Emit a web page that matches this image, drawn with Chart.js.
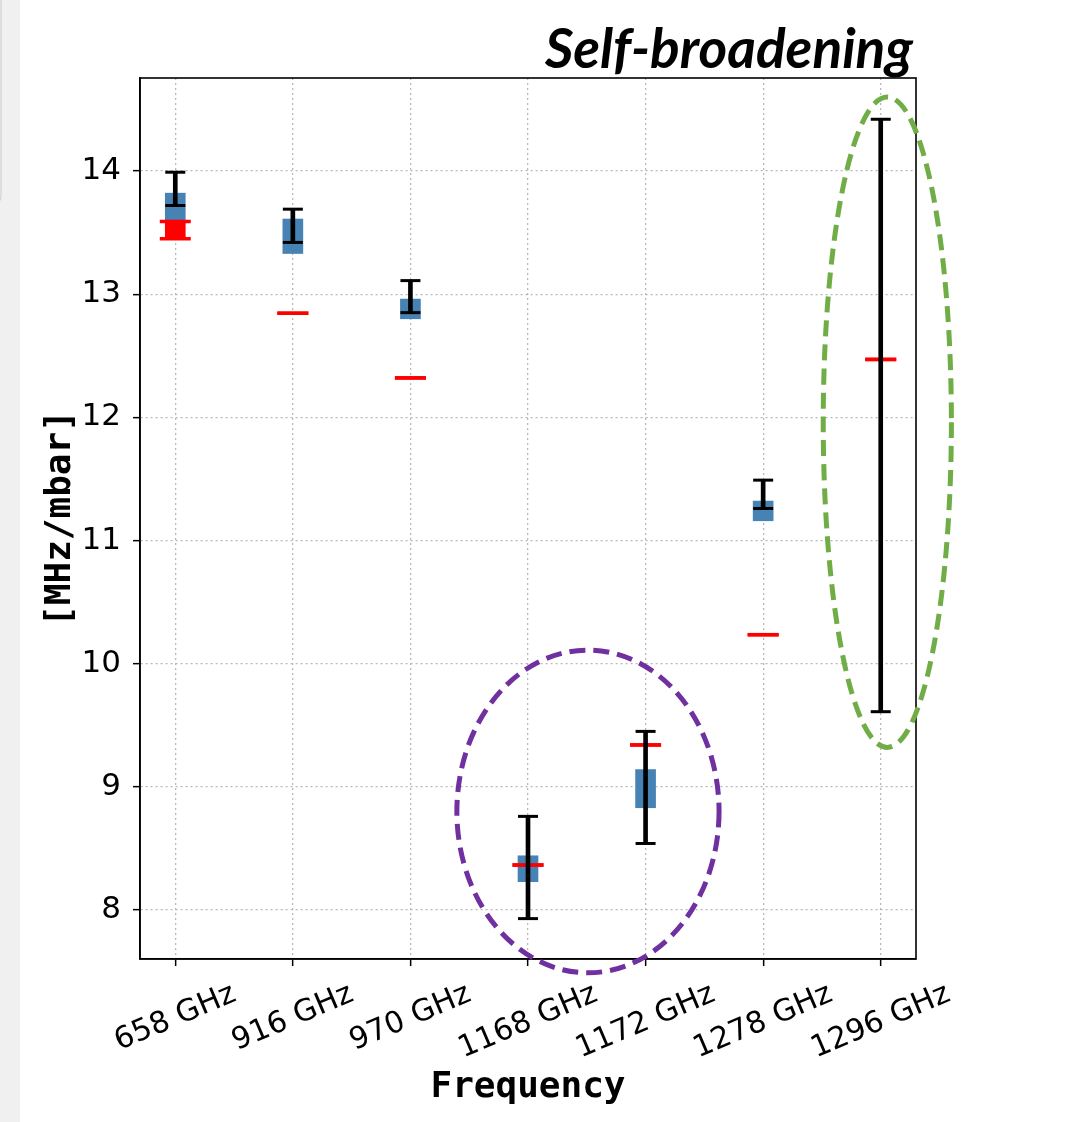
<!DOCTYPE html>
<html>
<head>
<meta charset="utf-8">
<script src="https://cdn.jsdelivr.net/npm/chart.js@4.4.1/dist/chart.umd.min.js"></script>
<style>
  html, body { margin: 0; padding: 0; background: #fff; overflow: hidden; }
  canvas { display: block; }
</style>
</head>
<body>
<canvas id="chart" width="1069" height="1122"></canvas>
<script>
// ======================
// DATA
// ======================
const freqLabels = ["658 GHz", "916 GHz", "970 GHz", "1168 GHz", "1172 GHz", "1278 GHz", "1296 GHz"];

// blue boxes (low / high)
const boxLow  = [13.59, 13.33, 12.80, 8.23, 8.83, 11.16, null];
const boxHigh = [13.82, 13.61, 12.96, 8.44, 9.14, 11.32, null];

// black error bars (low / high)
const errLow  = [13.72, 13.42, 12.85, 7.93, 8.54, 11.26, 9.61];
const errHigh = [13.99, 13.69, 13.11, 8.76, 9.45, 11.49, 14.42];

// red reference values (low / high, equal when no spread)
const refLow  = [13.45, 12.845, 12.32, 8.365, 9.34, 10.235, 12.47];
const refHigh = [13.59, 12.845, 12.32, 8.365, 9.34, 10.235, 12.47];

const yTicks = [8, 9, 10, 11, 12, 13, 14];

// dashed rings: [center index, center value, radius in index, radius in value]
const purpleRing = [3.51, 8.80, 1.115, 1.31];
const greenRing  = [6.056, 11.96, 0.545, 2.64];

// ======================
// BUILD DATASETS
// ======================
function floating(lo, hi) {
  return lo.map((v, i) => (v === null || v === hi[i]) ? { x: i, y: null } : { x: i, y: [v, hi[i]] });
}
function caps(lo, hi) {
  let pts = [];
  lo.forEach((v, i) => {
    pts.push({ x: i, y: v });
    pts.push({ x: i, y: hi[i] });
  });
  return pts;
}

// ======================
// PLUGINS
// ======================
const pagePlugin = {
  id: "page",
  beforeDraw(chart) {
    const ctx = chart.ctx;
    ctx.save();
    ctx.fillStyle = "#ffffff";
    ctx.fillRect(0, 0, chart.width, chart.height);
    ctx.fillStyle = "#f0f0f0";
    ctx.fillRect(0, 0, 20, chart.height);
    ctx.strokeStyle = "#d6d6d6";
    ctx.lineWidth = 1.5;
    ctx.beginPath();
    ctx.moveTo(1, 0);
    ctx.lineTo(1, 196);
    ctx.quadraticCurveTo(1, 202, -4, 202);
    ctx.stroke();
    ctx.restore();
  }
};

const decorPlugin = {
  id: "decor",
  afterDraw(chart) {
    const ctx = chart.ctx;
    const a = chart.chartArea;
    const xs = chart.scales.x;
    const ys = chart.scales.y;

    // frame
    ctx.save();
    ctx.strokeStyle = "#000";
    ctx.lineWidth = 1.6;
    ctx.strokeRect(a.left, a.top, a.right - a.left, a.bottom - a.top);
    ctx.restore();

    // x tick labels, rotated and centred under the ticks
    ctx.save();
    ctx.font = "30px 'DejaVu Sans'";
    ctx.fillStyle = "#000";
    ctx.textAlign = "center";
    ctx.textBaseline = "middle";
    const rot = 23 * Math.PI / 180;
    freqLabels.forEach((lab, i) => {
      const w = ctx.measureText(lab).width;
      const h = 26;
      const px = xs.getPixelForValue(i);
      const py = a.bottom + 22 + (w * Math.sin(rot) + h * Math.cos(rot)) / 2;
      ctx.save();
      ctx.translate(px, py);
      ctx.rotate(-rot);
      ctx.fillText(lab, 0, 0);
      ctx.restore();
    });
    ctx.restore();

    // title
    ctx.save();
    ctx.font = "italic bold 55px Lato";
    ctx.fillStyle = "#000";
    ctx.textAlign = "right";
    ctx.textBaseline = "alphabetic";
    ctx.fillText("Self-broadening", 913, 68);
    ctx.restore();

    // dashed rings
    [[purpleRing, "#7030a0"], [greenRing, "#70ad47"]].forEach(([r, col]) => {
      const cx = xs.getPixelForValue(r[0]);
      const cy = ys.getPixelForValue(r[1]);
      const rx = Math.abs(xs.getPixelForValue(r[0] + r[2]) - cx);
      const ry = Math.abs(ys.getPixelForValue(r[1] + r[3]) - cy);
      ctx.save();
      ctx.strokeStyle = col;
      ctx.lineWidth = 5;
      ctx.setLineDash([16, 8]);
      ctx.beginPath();
      ctx.ellipse(cx, cy, rx, ry, 0, 0, Math.PI * 2);
      ctx.stroke();
      ctx.restore();
    });
  }
};

// ======================
// CHART
// ======================
new Chart(document.getElementById("chart"), {
  type: "bar",
  data: {
    datasets: [
      {
        type: "scatter",
        data: caps(errLow, errHigh),
        pointStyle: "line",
        pointRadius: 10,
        borderWidth: 3,
        borderColor: "#000",
        showLine: false,
        order: 1
      },
      {
        data: floating(errLow, errHigh),
        backgroundColor: "#000",
        barThickness: 4,
        grouped: false,
        order: 2
      },
      {
        type: "scatter",
        data: caps(refLow, refHigh),
        pointStyle: "line",
        pointRadius: 15.5,
        borderWidth: 3.5,
        borderColor: "#ff0000",
        showLine: false,
        order: 3
      },
      {
        data: floating(refLow, refHigh),
        backgroundColor: "#ff0000",
        barThickness: 20,
        grouped: false,
        order: 4
      },
      {
        data: floating(boxLow, boxHigh),
        backgroundColor: "#4682b4",
        barThickness: 20,
        grouped: false,
        order: 5
      }
    ]
  },
  options: {
    responsive: false,
    animation: false,
    events: [],
    layout: { padding: { left: 0, top: 78, right: 153, bottom: 0 } },
    plugins: {
      legend: { display: false },
      tooltip: { enabled: false }
    },
    scales: {
      x: {
        type: "linear",
        min: -0.3,
        max: 6.3,
        offset: false,
        afterBuildTicks: s => { s.ticks = freqLabels.map((_, i) => ({ value: i })); },
        afterFit: s => { s.height = 163; },
        ticks: { display: false },
        grid: {
          offset: false,
          color: "#b8b8b8",
          lineWidth: 1.3,
          tickLength: 7,
          tickColor: "#000",
          tickWidth: 1.5,
          tickBorderDash: []
        },
        border: { display: true, color: "#000", width: 1.6, dash: [2, 3] },
        title: {
          display: true,
          text: "Frequency",
          color: "#000",
          font: { family: "'DejaVu Sans Mono'", size: 36, weight: "bold" },
          padding: { top: 0, bottom: 13 }
        }
      },
      y: {
        type: "linear",
        min: 7.602,
        max: 14.755,
        afterBuildTicks: s => { s.ticks = yTicks.map(v => ({ value: v })); },
        afterFit: s => { s.width = 140; },
        ticks: {
          color: "#000",
          padding: 12,
          font: { family: "'DejaVu Sans'", size: 31 }
        },
        grid: {
          color: "#b8b8b8",
          lineWidth: 1.3,
          tickLength: 7,
          tickColor: "#000",
          tickWidth: 1.5,
          tickBorderDash: []
        },
        border: { display: true, color: "#000", width: 1.6, dash: [2, 3] },
        title: {
          display: true,
          text: "[MHz/mbar]",
          color: "#000",
          font: { family: "'DejaVu Sans Mono'", size: 36, weight: "bold" },
          padding: { top: 39, bottom: 0 }
        }
      }
    }
  },
  plugins: [pagePlugin, decorPlugin]
});
</script>
</body>
</html>
